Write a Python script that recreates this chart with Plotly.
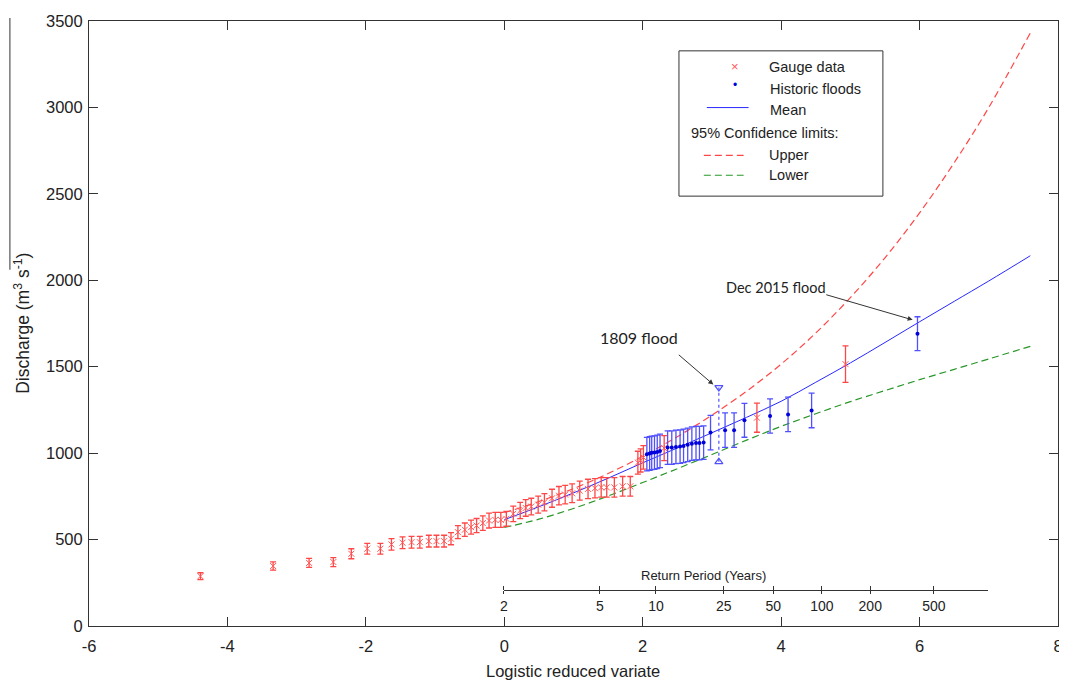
import math
import plotly.graph_objects as go

# ---------------- data ----------------
gauge_x = [-4.39, -3.34, -2.82, -2.47, -2.21, -1.98, -1.79, -1.63, -1.47, -1.34, -1.22, -1.09,
           -0.98, -0.87, -0.77, -0.67, -0.57, -0.48, -0.40, -0.31, -0.22, -0.13, -0.05, 0.03,
           0.13, 0.23, 0.31, 0.39, 0.49, 0.58, 0.69, 0.79, 0.88, 0.98, 1.09, 1.21, 1.31, 1.40,
           1.48, 1.59, 1.71, 1.82, 1.93, 1.97, 2.01, 2.31, 3.65, 4.93]
gauge_q = [288, 347, 365, 370, 418, 447, 447, 472, 482, 485, 485, 491,
           491, 491, 505, 543, 557, 572, 581, 595, 610, 614, 614, 620,
           649, 668, 683, 691, 702, 716, 739, 754, 760, 768, 783, 793, 797, 802,
           802, 802, 808, 808, 945, 958, 975, 1029, 1205, 1515]
gauge_err = [20, 24, 26, 26, 29, 31, 31, 33, 34, 34, 34, 34,
             34, 34, 35, 38, 39, 40, 41, 42, 43, 43, 43, 43,
             45, 47, 48, 48, 49, 50, 52, 53, 53, 54, 55, 56, 56, 56,
             56, 56, 57, 57, 66, 67, 68, 72, 84, 106]

hist_x = [2.06, 2.10, 2.13, 2.17, 2.21, 2.25, 2.36, 2.42, 2.48, 2.54, 2.59, 2.65,
          2.71, 2.77, 2.82, 2.88, 2.98, 3.19, 3.32, 3.47, 3.84, 4.10, 4.44, 5.97]
hist_q = [994, 998, 1002, 1003, 1007, 1013, 1032, 1032, 1036, 1038, 1042, 1048,
          1055, 1058, 1058, 1061, 1119, 1133, 1133, 1190, 1215, 1224, 1247, 1691]
hist_err = [97, 97, 97, 97, 97, 97, 97, 97, 97, 97, 97, 97,
            97, 97, 97, 97, 100, 100, 100, 98, 99, 100, 100, 98]

flood1809_x = [3.10, 3.10]
flood1809_q = [950, 1380]

curve_x = [0, 0.5, 1, 1.5, 2, 2.5, 3, 3.5, 4, 4.5, 5, 5.5, 6, 6.5, 7, 7.6]
mean_q = [615, 690, 770, 855, 944, 1030, 1118, 1207, 1300, 1410, 1522, 1640, 1760, 1878, 1996, 2142]
upper_q = [655, 720, 795, 882, 982, 1095, 1220, 1358, 1515, 1695, 1900, 2130, 2390, 2680, 3000, 3431]
lower_q = [570, 618, 680, 752, 830, 910, 992, 1075, 1155, 1228, 1298, 1362, 1425, 1485, 1545, 1618]

x_ticks = [-6, -4, -2, 0, 2, 4, 6, 8]
y_ticks = [0, 500, 1000, 1500, 2000, 2500, 3000, 3500]
return_periods = [2, 5, 10, 25, 50, 100, 200, 500]

# ---------------- layout geometry ----------------
OFF = 8                      # page body margin
W, H = 1067 - OFF, 681 - OFF
PL, PR, PT, PB = 89, 1063, 18, 626   # plot area in screenshot pixels
ML, MT = PL - OFF, PT - OFF
MR = OFF + W - PR
MB = OFF + H - PB
PW, PH = PR - PL, PB - PT


def pxx(px):
    return (px - PL) / PW


def pxy(py):
    return (PB - py) / PH


FONT = "Liberation Sans, Arial, sans-serif"
RED = "rgb(255,70,70)"
RED_M = "rgb(255,90,90)"
BLUE = "rgb(40,40,255)"
BLUE_E = "rgb(80,80,255)"
GREEN = "rgb(40,150,40)"

fig = go.Figure()

# confidence limits and mean
fig.add_trace(go.Scatter(x=curve_x, y=upper_q, mode="lines", line=dict(color=RED, width=1.2, dash="7px,4px"),
                         line_shape="spline", showlegend=False, hoverinfo="skip"))
fig.add_trace(go.Scatter(x=curve_x, y=lower_q, mode="lines", line=dict(color=GREEN, width=1.2, dash="7px,4px"),
                         line_shape="spline", showlegend=False, hoverinfo="skip"))
fig.add_trace(go.Scatter(x=curve_x, y=mean_q, mode="lines", line=dict(color=BLUE, width=1),
                         line_shape="spline", showlegend=False, hoverinfo="skip"))

# gauge data
fig.add_trace(go.Scatter(
    x=gauge_x, y=gauge_q, mode="markers",
    marker=dict(symbol="x-thin", size=6, line=dict(color=RED_M, width=1)),
    error_y=dict(type="data", array=gauge_err, color=RED, thickness=1.3, width=3),
    showlegend=False))

# historic floods
fig.add_trace(go.Scatter(
    x=hist_x, y=hist_q, mode="markers",
    marker=dict(symbol="circle", size=4, color="rgb(0,0,220)"),
    error_y=dict(type="data", array=hist_err, color=BLUE_E, thickness=1.3, width=3),
    showlegend=False))

# 1809 flood range
fig.add_trace(go.Scatter(
    x=flood1809_x, y=flood1809_q, mode="lines+markers",
    line=dict(color=BLUE_E, width=1.2, dash="dot"),
    marker=dict(symbol=["triangle-up-open", "triangle-down-open"], size=7,
                color=BLUE_E, line=dict(width=1.2, color=BLUE_E)),
    showlegend=False, hoverinfo="skip"))

# dummy trace for return-period axis
fig.add_trace(go.Scatter(x=[None], y=[None], xaxis="x2", yaxis="y", showlegend=False, hoverinfo="skip"))

axis_common = dict(showline=True, linecolor="#333", linewidth=1, mirror="ticks", ticks="inside",
                   ticklen=9, tickcolor="#333", showgrid=False, zeroline=False,
                   tickfont=dict(family=FONT, size=16.5, color="#222"))

rp_vals = [math.log(t - 1) for t in return_periods]

fig.update_layout(
    width=W, height=H,
    margin=dict(l=ML, r=MR, t=MT, b=MB, pad=0),
    paper_bgcolor="white", plot_bgcolor="rgba(0,0,0,0)",
    showlegend=False,
    xaxis=dict(range=[-6, 8], tickvals=x_ticks, ticktext=[str(v) for v in x_ticks],
               ticklabelstandoff=5, **axis_common),
    yaxis=dict(range=[0, 3500], tickvals=y_ticks, ticklabelstandoff=2, **axis_common),
    xaxis2=dict(domain=[pxx(506), pxx(993)], range=[0, 7], anchor="free", position=pxy(590),
                showline=True, linecolor="#333", linewidth=1, ticks="outside", ticklen=3,
                tickwidth=1, tickcolor="#333", showgrid=False, zeroline=False,
                tickvals=rp_vals, ticktext=[str(t) for t in return_periods],
                minor=dict(tickvals=rp_vals, ticks="inside", ticklen=4, tickwidth=1,
                           tickcolor="#333", showgrid=False),
                tickfont=dict(family=FONT, size=14, color="#222"), ticklabelstandoff=0),
)


def pann(text, px, py, size, xanchor="center", color="#222", family=FONT, **kw):
    return dict(text=text, x=pxx(px), y=pxy(py), xref="paper", yref="paper", xanchor=xanchor,
                yanchor="middle", showarrow=False, font=dict(family=family, size=size, color=color), **kw)


ann = []
# axis titles
ann.append(pann("Logistic reduced variate", 575, 671, 16.5))
ann.append(pann("Discharge (m<sup>3</sup> s<sup>-1</sup>)", 21, 322, 17.5, textangle=-90))
ann.append(pann("Return Period (Years)", 707, 575, 13))

# flood labels and arrows
LBL = "Lato, Carlito, sans-serif"
ann.append(dict(text="1809 flood", x=1.94, y=1670, xref="x", yref="y", showarrow=False,
                xanchor="center", yanchor="middle", font=dict(family=LBL, size=16, color="#222")))
ann.append(dict(text="", x=3.02, y=1397, ax=2.50, ay=1576, xref="x", yref="y", axref="x", ayref="y",
                showarrow=True, arrowhead=2, arrowsize=1, arrowwidth=1, arrowcolor="#333"))
ann.append(dict(text="Dec 2015 flood", x=3.92, y=1960, xref="x", yref="y", showarrow=False,
                xanchor="center", yanchor="middle", font=dict(family=LBL, size=14.5, color="#222")))
ann.append(dict(text="", x=5.90, y=1771, ax=4.63, ay=1919, xref="x", yref="y", axref="x", ayref="y",
                showarrow=True, arrowhead=2, arrowsize=1, arrowwidth=1, arrowcolor="#333"))

# legend
LS = 14.5
ann.append(pann("×", 738, 64, 13, color=RED_M))
ann.append(pann("Gauge data", 770, 64, LS, xanchor="left"))
ann.append(pann("•", 738, 82, 12, color="rgb(0,0,220)"))
ann.append(pann("Historic floods", 772, 86, LS, xanchor="left"))
ann.append(pann("Mean", 772, 107, LS, xanchor="left"))
ann.append(pann("95% Confidence limits:", 692, 131, LS, xanchor="left"))
ann.append(pann("Upper", 770, 153, LS, xanchor="left"))
ann.append(pann("Lower", 770, 173, LS, xanchor="left"))
fig.update_layout(annotations=ann)

shapes = [
    dict(type="rect", xref="paper", yref="paper", x0=pxx(682), x1=pxx(887), y0=pxy(194), y1=pxy(48),
         line=dict(color="#333", width=1), fillcolor="white", layer="above"),
    dict(type="line", xref="paper", yref="paper", x0=pxx(710), x1=pxx(752), y0=pxy(105), y1=pxy(105),
         line=dict(color=BLUE, width=1)),
    dict(type="line", xref="paper", yref="paper", x0=pxx(707), x1=pxx(747), y0=pxy(153), y1=pxy(153),
         line=dict(color=RED, width=1.2, dash="7px,4px")),
    dict(type="line", xref="paper", yref="paper", x0=pxx(707), x1=pxx(747), y0=pxy(173), y1=pxy(173),
         line=dict(color=GREEN, width=1.2, dash="7px,4px")),
    dict(type="line", xref="paper", yref="paper", x0=pxx(9.5), x1=pxx(9.5), y0=pxy(15), y1=pxy(268),
         line=dict(color="#333", width=1)),
]
fig.update_layout(shapes=shapes)

fig.write_html("out.html")
